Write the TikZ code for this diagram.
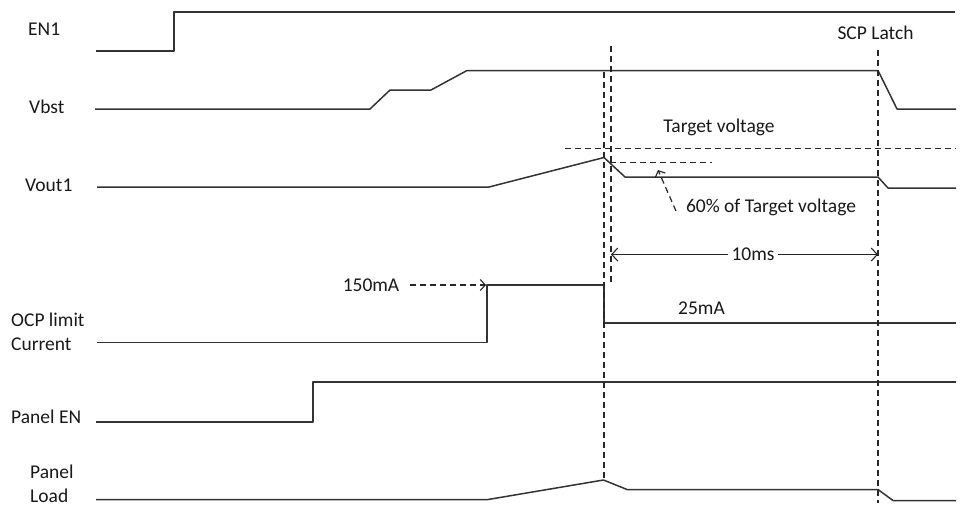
\documentclass[tikz,border=0pt]{standalone}
\usepackage{fontspec}
\setmainfont{Carlito}
\usetikzlibrary{arrows.meta}
\begin{document}
\begin{tikzpicture}[x=1pt,y=-1pt,
 wave/.style={line width=1.5pt, draw=black!80, line join=round},
 guide/.style={line width=1.2pt, draw=black!85, dash pattern=on 6pt off 4pt},
 lbl/.style={font=\fontsize{19.5}{23.5}\selectfont, text=black!90, inner sep=0pt},
 barb/.style={-{Straight Barb[length=5pt,width=11pt,line width=1.1pt]}},
 ]
\useasboundingbox[fill=white] (0,0) rectangle (960,507);

% signal labels
\node[lbl, anchor=west] (en1) at (28,29) {EN1};
\node[lbl, anchor=west] (vbst) at (29,107) {Vbst};
\node[lbl, anchor=west] (vout) at (25,185) {Vout1};
\node[lbl, anchor=west, align=left] (ocp) at (11,332) {OCP limit\\Current};
\node[lbl, anchor=west] (pen) at (11,417) {Panel EN};
\node[lbl, anchor=west, align=left] (pload) at (30,484) {Panel\\Load};

% waveforms
\draw[wave] (96,51) -- (174,51) -- (174,12) -- (955,12);
\draw[wave] (95,109) -- (370,109) -- (390,90) -- (431,90) -- (467,70.5) -- (878,70.5) -- (897,109) -- (956,109);
\draw[wave] (97,187) -- (489,187) -- (604,157.5) -- (625,177) -- (878,177) -- (888,188) -- (956,188);
\draw[wave] (97,342.5) -- (487,342.5) -- (487,285) -- (604,285) -- (604,323) -- (956,323);
\draw[wave] (96,422) -- (313,422) -- (313,382) -- (956,382);
\draw[wave] (96,499.5) -- (488,499.5) -- (603.5,480) -- (627,489.5) -- (878,489.5) -- (893,500.5) -- (956,500.5);

% vertical guides
\coordinate (g1t) at (604,72);
\coordinate (g1b) at (604,479);
\coordinate (g2t) at (611,46);
\coordinate (g2b) at (611,284);
\coordinate (g3t) at (878,50);
\coordinate (g3b) at (878,503);
\draw[guide] (g1t) -- (g1b);
\draw[guide] (g2t) -- (g2b);
\draw[guide] (g3t) -- (g3b);

% horizontal guides
\coordinate (tv1) at (565,148.5);
\coordinate (tv2) at (956,148.5);
\draw[guide] (tv1) -- (tv2);
\coordinate (p61) at (610,162.5);
\coordinate (p62) at (712,162.5);
\draw[guide] (p61) -- (p62);

% texts
\node[lbl] (tv) at (719,127) {Target voltage};
\node[lbl] (scp) at (875.5,33) {SCP Latch};
\node[lbl] (p60) at (771,207) {60\% of Target voltage};
\node[lbl] (c25) at (701.5,308) {25mA};
\node[lbl] (c150) at (371,285) {150mA};

% arrows
\coordinate (a60) at (658,170);
\draw[guide, barb] (676,211) -- (a60);
\coordinate (a150) at (486,285);
\draw[guide, barb] (410,285) -- (a150);

\coordinate (t1) at (611,254.5);
\coordinate (t2) at (878,254.5);
\draw[line width=1.2pt, draw=black!85, {Straight Barb[length=6pt,width=13pt,line width=1.1pt]}-{Straight Barb[length=6pt,width=13pt,line width=1.1pt]}] (t1) -- (t2);
\node[lbl, fill=white, inner xsep=4pt, inner ysep=2pt] (ms) at (753,254.5) {10ms};
\end{tikzpicture}
\end{document}
